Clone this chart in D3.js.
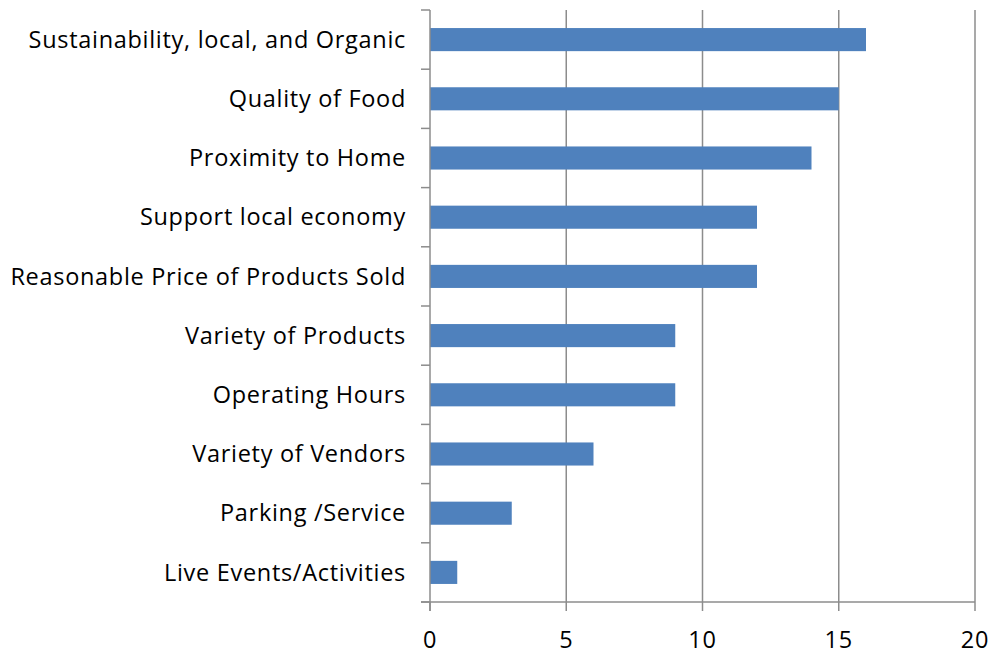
<!DOCTYPE html>
<html>
<head>
<meta charset="utf-8">
<script src="https://cdn.jsdelivr.net/npm/d3@7"></script>
<style>
  body { margin: 0; background: #fff; }
  text { font-family: "Open Sans", sans-serif; fill: #000; }
</style>
</head>
<body>
<div id="chart"></div>
<script>
// data, top to bottom as shown
let categories = ["Sustainability, local, and Organic", "Quality of Food", "Proximity to Home",
  "Support local economy", "Reasonable Price of Products Sold", "Variety of Products",
  "Operating Hours", "Variety of Vendors", "Parking /Service", "Live Events/Activities"];
let counts = [16, 15, 14, 12, 12, 9, 9, 6, 3, 1];
let xTicks = [0, 5, 10, 15, 20];

let width = 994, height = 656;
let margin = {left: 430, top: 10, right: 19, bottom: 54};
let plotW = width - margin.left - margin.right;
let plotH = height - margin.top - margin.bottom;

let svg = d3.select("#chart").append("svg")
  .attr("width", width).attr("height", height);

let x = d3.scaleLinear().domain([0, 20]).range([0, plotW]);
let y = d3.scaleBand().domain(categories).range([0, plotH]).paddingInner(0.61).paddingOuter(0.305);
let yb = d3.scaleBand().domain(categories).range([0, plotH]);

let g = svg.append("g").attr("transform", `translate(${margin.left},${margin.top})`);

// vertical gridlines
g.selectAll("line.grid").data(xTicks.slice(1)).enter().append("line")
  .attr("class", "grid")
  .attr("x1", d => x(d)).attr("x2", d => x(d))
  .attr("y1", 0).attr("y2", plotH)
  .style("stroke", "#8c8c8c").style("stroke-width", 1.5);

// bars
g.selectAll("rect").data(counts).enter().append("rect")
  .attr("x", 0)
  .attr("y", (d, i) => y(categories[i]))
  .attr("width", d => x(d))
  .attr("height", y.bandwidth())
  .style("fill", "#4f81bd");

// y axis: line + ticks at band boundaries
let yTickPos = categories.map(c => yb(c)).concat([plotH]);
g.append("line").attr("x1", 0).attr("x2", 0).attr("y1", 0).attr("y2", plotH + 9)
  .style("stroke", "#8c8c8c").style("stroke-width", 1.5);
g.selectAll("line.yt").data(yTickPos).enter().append("line")
  .attr("class", "yt")
  .attr("x1", -9).attr("x2", 0)
  .attr("y1", d => d).attr("y2", d => d)
  .style("stroke", "#8c8c8c").style("stroke-width", 1.5);
g.selectAll("text.ylab").data(categories).enter().append("text")
  .attr("class", "ylab")
  .attr("x", -24)
  .attr("y", d => yb(d) + yb.bandwidth() / 2)
  .attr("dy", "0.35em")
  .attr("text-anchor", "end")
  .style("font-size", "23.5px")
  .style("letter-spacing", "0.7px")
  .text(d => d);

// x axis
g.append("line").attr("x1", -9).attr("x2", plotW).attr("y1", plotH).attr("y2", plotH)
  .style("stroke", "#8c8c8c").style("stroke-width", 1.5);
g.selectAll("line.xt").data(xTicks).enter().append("line")
  .attr("class", "xt")
  .attr("x1", d => x(d)).attr("x2", d => x(d))
  .attr("y1", plotH).attr("y2", plotH + 9)
  .style("stroke", "#8c8c8c").style("stroke-width", 1.5);
g.selectAll("text.xlab").data(xTicks).enter().append("text")
  .attr("class", "xlab")
  .attr("x", d => x(d))
  .attr("y", plotH + 38)
  .attr("dy", "0.35em")
  .attr("text-anchor", "middle")
  .style("font-size", "23.5px")
  .style("letter-spacing", "0.7px")
  .text(d => d);
</script>
</body>
</html>
